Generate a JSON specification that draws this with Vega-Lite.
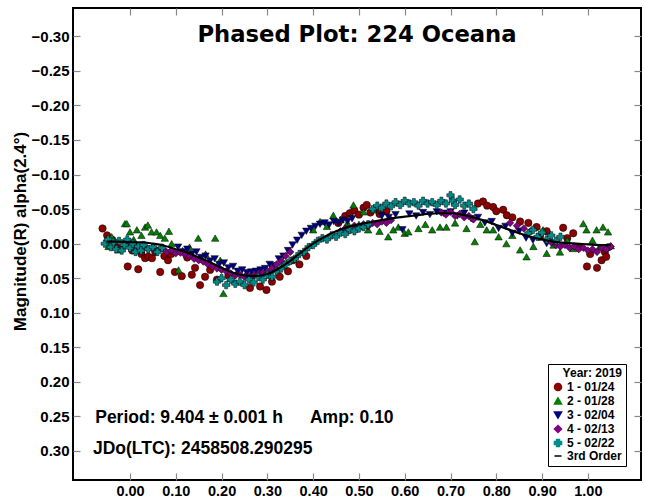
{
  "$schema": "https://vega.github.io/schema/vega-lite/v6.json",
  "width": 568,
  "height": 472,
  "autosize": "none",
  "padding": {"left": 73, "top": 8, "right": 5, "bottom": 20},
  "background": "white",
  "config": {
    "font": "Liberation Sans",
    "view": {"stroke": "black", "strokeWidth": 2},
    "axis": {"labelFont": "Liberation Sans", "labelFontWeight": "bold", "labelFontSize": 15, "labelColor": "black", "titleFont": "Liberation Sans", "titleFontWeight": "bold", "titleFontSize": 17, "titleColor": "black", "grid": false, "domain": false, "tickColor": "#888888", "tickWidth": 1.2}
  },
  "title": {"text": "Phased Plot: 224 Oceana", "font": "DejaVu Sans", "fontSize": 22.7, "fontWeight": "bold", "color": "black", "anchor": "middle", "frame": "group", "baseline": "middle", "offset": 0, "dy": 50},
  "datasets": {
    "pts": [
      {"phase": -0.06, "mag": -0.022, "series": "1 - 01/24"},
      {"phase": -0.05, "mag": -0.012, "series": "1 - 01/24"},
      {"phase": -0.04, "mag": -0.006, "series": "1 - 01/24"},
      {"phase": -0.03, "mag": 0.004, "series": "1 - 01/24"},
      {"phase": -0.02, "mag": 0.008, "series": "1 - 01/24"},
      {"phase": -0.005, "mag": 0.033, "series": "1 - 01/24"},
      {"phase": 0.005, "mag": 0.010, "series": "1 - 01/24"},
      {"phase": 0.015, "mag": 0.005, "series": "1 - 01/24"},
      {"phase": 0.018, "mag": 0.037, "series": "1 - 01/24"},
      {"phase": 0.025, "mag": 0.015, "series": "1 - 01/24"},
      {"phase": 0.033, "mag": 0.021, "series": "1 - 01/24"},
      {"phase": 0.040, "mag": 0.019, "series": "1 - 01/24"},
      {"phase": 0.048, "mag": 0.021, "series": "1 - 01/24"},
      {"phase": 0.055, "mag": 0.012, "series": "1 - 01/24"},
      {"phase": 0.066, "mag": 0.041, "series": "1 - 01/24"},
      {"phase": 0.075, "mag": 0.018, "series": "1 - 01/24"},
      {"phase": 0.083, "mag": 0.024, "series": "1 - 01/24"},
      {"phase": 0.090, "mag": 0.015, "series": "1 - 01/24"},
      {"phase": 0.098, "mag": 0.041, "series": "1 - 01/24"},
      {"phase": 0.113, "mag": 0.047, "series": "1 - 01/24"},
      {"phase": 0.125, "mag": 0.020, "series": "1 - 01/24"},
      {"phase": 0.135, "mag": 0.045, "series": "1 - 01/24"},
      {"phase": 0.142, "mag": 0.035, "series": "1 - 01/24"},
      {"phase": 0.153, "mag": 0.060, "series": "1 - 01/24"},
      {"phase": 0.164, "mag": 0.048, "series": "1 - 01/24"},
      {"phase": 0.175, "mag": 0.038, "series": "1 - 01/24"},
      {"phase": 0.19, "mag": 0.052, "series": "1 - 01/24"},
      {"phase": 0.215, "mag": 0.046, "series": "1 - 01/24"},
      {"phase": 0.262, "mag": 0.064, "series": "1 - 01/24"},
      {"phase": 0.284, "mag": 0.062, "series": "1 - 01/24"},
      {"phase": 0.298, "mag": 0.067, "series": "1 - 01/24"},
      {"phase": 0.31, "mag": 0.055, "series": "1 - 01/24"},
      {"phase": 0.327, "mag": 0.048, "series": "1 - 01/24"},
      {"phase": 0.345, "mag": 0.040, "series": "1 - 01/24"},
      {"phase": 0.356, "mag": 0.024, "series": "1 - 01/24"},
      {"phase": 0.37, "mag": 0.030, "series": "1 - 01/24"},
      {"phase": 0.385, "mag": 0.018, "series": "1 - 01/24"},
      {"phase": 0.455, "mag": -0.030, "series": "1 - 01/24"},
      {"phase": 0.47, "mag": -0.040, "series": "1 - 01/24"},
      {"phase": 0.48, "mag": -0.044, "series": "1 - 01/24"},
      {"phase": 0.49, "mag": -0.048, "series": "1 - 01/24"},
      {"phase": 0.50, "mag": -0.042, "series": "1 - 01/24"},
      {"phase": 0.51, "mag": -0.052, "series": "1 - 01/24"},
      {"phase": 0.517, "mag": -0.056, "series": "1 - 01/24"},
      {"phase": 0.525, "mag": -0.045, "series": "1 - 01/24"},
      {"phase": 0.535, "mag": -0.050, "series": "1 - 01/24"},
      {"phase": 0.545, "mag": -0.043, "series": "1 - 01/24"},
      {"phase": 0.56, "mag": -0.047, "series": "1 - 01/24"},
      {"phase": 0.76, "mag": -0.058, "series": "1 - 01/24"},
      {"phase": 0.771, "mag": -0.061, "series": "1 - 01/24"},
      {"phase": 0.78, "mag": -0.055, "series": "1 - 01/24"},
      {"phase": 0.793, "mag": -0.053, "series": "1 - 01/24"},
      {"phase": 0.80, "mag": -0.047, "series": "1 - 01/24"},
      {"phase": 0.815, "mag": -0.049, "series": "1 - 01/24"},
      {"phase": 0.823, "mag": -0.041, "series": "1 - 01/24"},
      {"phase": 0.835, "mag": -0.038, "series": "1 - 01/24"},
      {"phase": 0.852, "mag": -0.032, "series": "1 - 01/24"},
      {"phase": 0.87, "mag": -0.030, "series": "1 - 01/24"},
      {"phase": 0.888, "mag": -0.024, "series": "1 - 01/24"},
      {"phase": 0.895, "mag": -0.010, "series": "1 - 01/24"},
      {"phase": 0.91, "mag": -0.018, "series": "1 - 01/24"},
      {"phase": 0.946, "mag": -0.023, "series": "1 - 01/24"},
      {"phase": 0.955, "mag": -0.008, "series": "1 - 01/24"},
      {"phase": 0.968, "mag": -0.015, "series": "1 - 01/24"},
      {"phase": 0.98, "mag": 0.005, "series": "1 - 01/24"},
      {"phase": 0.998, "mag": 0.033, "series": "1 - 01/24"},
      {"phase": 1.005, "mag": 0.015, "series": "1 - 01/24"},
      {"phase": 1.02, "mag": 0.035, "series": "1 - 01/24"},
      {"phase": 1.03, "mag": 0.024, "series": "1 - 01/24"},
      {"phase": 1.037, "mag": 0.012, "series": "1 - 01/24"},
      {"phase": 1.04, "mag": 0.019, "series": "1 - 01/24"},
      {"phase": 1.045, "mag": 0.005, "series": "1 - 01/24"},

      {"phase": -0.047, "mag": 0.004, "series": "2 - 01/28"},
      {"phase": -0.04, "mag": -0.010, "series": "2 - 01/28"},
      {"phase": -0.033, "mag": -0.005, "series": "2 - 01/28"},
      {"phase": -0.026, "mag": 0.009, "series": "2 - 01/28"},
      {"phase": -0.011, "mag": -0.029, "series": "2 - 01/28"},
      {"phase": -0.007, "mag": -0.029, "series": "2 - 01/28"},
      {"phase": 0.0, "mag": -0.017, "series": "2 - 01/28"},
      {"phase": 0.008, "mag": -0.006, "series": "2 - 01/28"},
      {"phase": 0.015, "mag": -0.020, "series": "2 - 01/28"},
      {"phase": 0.025, "mag": -0.012, "series": "2 - 01/28"},
      {"phase": 0.033, "mag": -0.024, "series": "2 - 01/28"},
      {"phase": 0.039, "mag": -0.027, "series": "2 - 01/28"},
      {"phase": 0.047, "mag": -0.017, "series": "2 - 01/28"},
      {"phase": 0.058, "mag": -0.017, "series": "2 - 01/28"},
      {"phase": 0.066, "mag": -0.012, "series": "2 - 01/28"},
      {"phase": 0.076, "mag": -0.008, "series": "2 - 01/28"},
      {"phase": 0.085, "mag": -0.018, "series": "2 - 01/28"},
      {"phase": 0.091, "mag": 0.0, "series": "2 - 01/28"},
      {"phase": 0.106, "mag": 0.038, "series": "2 - 01/28"},
      {"phase": 0.115, "mag": 0.010, "series": "2 - 01/28"},
      {"phase": 0.13, "mag": 0.005, "series": "2 - 01/28"},
      {"phase": 0.149, "mag": -0.008, "series": "2 - 01/28"},
      {"phase": 0.165, "mag": 0.015, "series": "2 - 01/28"},
      {"phase": 0.186, "mag": -0.008, "series": "2 - 01/28"},
      {"phase": 0.197, "mag": 0.024, "series": "2 - 01/28"},
      {"phase": 0.204, "mag": 0.072, "series": "2 - 01/28"},
      {"phase": 0.22, "mag": 0.050, "series": "2 - 01/28"},
      {"phase": 0.40, "mag": -0.020, "series": "2 - 01/28"},
      {"phase": 0.415, "mag": -0.032, "series": "2 - 01/28"},
      {"phase": 0.43, "mag": -0.025, "series": "2 - 01/28"},
      {"phase": 0.444, "mag": -0.041, "series": "2 - 01/28"},
      {"phase": 0.46, "mag": -0.035, "series": "2 - 01/28"},
      {"phase": 0.475, "mag": -0.030, "series": "2 - 01/28"},
      {"phase": 0.488, "mag": -0.056, "series": "2 - 01/28"},
      {"phase": 0.50, "mag": -0.028, "series": "2 - 01/28"},
      {"phase": 0.51, "mag": -0.046, "series": "2 - 01/28"},
      {"phase": 0.52, "mag": -0.020, "series": "2 - 01/28"},
      {"phase": 0.531, "mag": -0.049, "series": "2 - 01/28"},
      {"phase": 0.545, "mag": -0.018, "series": "2 - 01/28"},
      {"phase": 0.564, "mag": -0.010, "series": "2 - 01/28"},
      {"phase": 0.575, "mag": -0.020, "series": "2 - 01/28"},
      {"phase": 0.586, "mag": -0.024, "series": "2 - 01/28"},
      {"phase": 0.60, "mag": -0.015, "series": "2 - 01/28"},
      {"phase": 0.608, "mag": -0.017, "series": "2 - 01/28"},
      {"phase": 0.63, "mag": -0.022, "series": "2 - 01/28"},
      {"phase": 0.645, "mag": -0.028, "series": "2 - 01/28"},
      {"phase": 0.66, "mag": -0.020, "series": "2 - 01/28"},
      {"phase": 0.677, "mag": -0.024, "series": "2 - 01/28"},
      {"phase": 0.691, "mag": -0.024, "series": "2 - 01/28"},
      {"phase": 0.71, "mag": -0.030, "series": "2 - 01/28"},
      {"phase": 0.735, "mag": -0.022, "series": "2 - 01/28"},
      {"phase": 0.753, "mag": -0.003, "series": "2 - 01/28"},
      {"phase": 0.765, "mag": -0.028, "series": "2 - 01/28"},
      {"phase": 0.779, "mag": -0.020, "series": "2 - 01/28"},
      {"phase": 0.793, "mag": -0.020, "series": "2 - 01/28"},
      {"phase": 0.805, "mag": -0.010, "series": "2 - 01/28"},
      {"phase": 0.822, "mag": 0.000, "series": "2 - 01/28"},
      {"phase": 0.835, "mag": -0.012, "series": "2 - 01/28"},
      {"phase": 0.852, "mag": 0.009, "series": "2 - 01/28"},
      {"phase": 0.866, "mag": 0.019, "series": "2 - 01/28"},
      {"phase": 0.881, "mag": 0.004, "series": "2 - 01/28"},
      {"phase": 0.902, "mag": -0.020, "series": "2 - 01/28"},
      {"phase": 0.91, "mag": 0.014, "series": "2 - 01/28"},
      {"phase": 0.925, "mag": 0.002, "series": "2 - 01/28"},
      {"phase": 0.939, "mag": 0.012, "series": "2 - 01/28"},
      {"phase": 0.955, "mag": -0.005, "series": "2 - 01/28"},
      {"phase": 0.968, "mag": 0.007, "series": "2 - 01/28"},
      {"phase": 0.99, "mag": -0.029, "series": "2 - 01/28"},
      {"phase": 0.997, "mag": -0.020, "series": "2 - 01/28"},
      {"phase": 1.01, "mag": -0.005, "series": "2 - 01/28"},
      {"phase": 1.019, "mag": -0.020, "series": "2 - 01/28"},
      {"phase": 1.025, "mag": 0.005, "series": "2 - 01/28"},
      {"phase": 1.033, "mag": -0.024, "series": "2 - 01/28"},
      {"phase": 1.044, "mag": -0.017, "series": "2 - 01/28"},
      {"phase": 1.05, "mag": 0.003, "series": "2 - 01/28"},

      {"phase": 0.105, "mag": 0.005, "series": "3 - 02/04"},
      {"phase": 0.115, "mag": 0.012, "series": "3 - 02/04"},
      {"phase": 0.125, "mag": 0.008, "series": "3 - 02/04"},
      {"phase": 0.135, "mag": 0.015, "series": "3 - 02/04"},
      {"phase": 0.145, "mag": 0.012, "series": "3 - 02/04"},
      {"phase": 0.155, "mag": 0.020, "series": "3 - 02/04"},
      {"phase": 0.165, "mag": 0.018, "series": "3 - 02/04"},
      {"phase": 0.175, "mag": 0.025, "series": "3 - 02/04"},
      {"phase": 0.185, "mag": 0.022, "series": "3 - 02/04"},
      {"phase": 0.195, "mag": 0.030, "series": "3 - 02/04"},
      {"phase": 0.205, "mag": 0.028, "series": "3 - 02/04"},
      {"phase": 0.215, "mag": 0.035, "series": "3 - 02/04"},
      {"phase": 0.225, "mag": 0.033, "series": "3 - 02/04"},
      {"phase": 0.235, "mag": 0.040, "series": "3 - 02/04"},
      {"phase": 0.245, "mag": 0.038, "series": "3 - 02/04"},
      {"phase": 0.255, "mag": 0.042, "series": "3 - 02/04"},
      {"phase": 0.265, "mag": 0.041, "series": "3 - 02/04"},
      {"phase": 0.275, "mag": 0.040, "series": "3 - 02/04"},
      {"phase": 0.285, "mag": 0.038, "series": "3 - 02/04"},
      {"phase": 0.295, "mag": 0.036, "series": "3 - 02/04"},
      {"phase": 0.305, "mag": 0.030, "series": "3 - 02/04"},
      {"phase": 0.315, "mag": 0.032, "series": "3 - 02/04"},
      {"phase": 0.325, "mag": 0.022, "series": "3 - 02/04"},
      {"phase": 0.335, "mag": 0.018, "series": "3 - 02/04"},
      {"phase": 0.345, "mag": 0.010, "series": "3 - 02/04"},
      {"phase": 0.355, "mag": 0.002, "series": "3 - 02/04"},
      {"phase": 0.365, "mag": -0.005, "series": "3 - 02/04"},
      {"phase": 0.375, "mag": -0.012, "series": "3 - 02/04"},
      {"phase": 0.385, "mag": -0.018, "series": "3 - 02/04"},
      {"phase": 0.395, "mag": -0.022, "series": "3 - 02/04"},
      {"phase": 0.405, "mag": -0.025, "series": "3 - 02/04"},
      {"phase": 0.415, "mag": -0.028, "series": "3 - 02/04"},
      {"phase": 0.425, "mag": -0.030, "series": "3 - 02/04"},
      {"phase": 0.435, "mag": -0.027, "series": "3 - 02/04"},
      {"phase": 0.445, "mag": -0.032, "series": "3 - 02/04"},
      {"phase": 0.455, "mag": -0.030, "series": "3 - 02/04"},
      {"phase": 0.465, "mag": -0.034, "series": "3 - 02/04"},
      {"phase": 0.475, "mag": -0.032, "series": "3 - 02/04"},
      {"phase": 0.485, "mag": -0.036, "series": "3 - 02/04"},
      {"phase": 0.55, "mag": -0.040, "series": "3 - 02/04"},
      {"phase": 0.565, "mag": -0.038, "series": "3 - 02/04"},
      {"phase": 0.58, "mag": -0.042, "series": "3 - 02/04"},
      {"phase": 0.595, "mag": -0.020, "series": "3 - 02/04"},
      {"phase": 0.61, "mag": -0.043, "series": "3 - 02/04"},
      {"phase": 0.625, "mag": -0.040, "series": "3 - 02/04"},
      {"phase": 0.64, "mag": -0.045, "series": "3 - 02/04"},
      {"phase": 0.655, "mag": -0.042, "series": "3 - 02/04"},
      {"phase": 0.67, "mag": -0.046, "series": "3 - 02/04"},
      {"phase": 0.685, "mag": -0.044, "series": "3 - 02/04"},
      {"phase": 0.70, "mag": -0.046, "series": "3 - 02/04"},
      {"phase": 0.715, "mag": -0.040, "series": "3 - 02/04"},
      {"phase": 0.73, "mag": -0.044, "series": "3 - 02/04"},
      {"phase": 0.745, "mag": -0.036, "series": "3 - 02/04"},
      {"phase": 0.76, "mag": -0.038, "series": "3 - 02/04"},
      {"phase": 0.775, "mag": -0.030, "series": "3 - 02/04"},
      {"phase": 0.79, "mag": -0.032, "series": "3 - 02/04"},
      {"phase": 0.805, "mag": -0.022, "series": "3 - 02/04"},
      {"phase": 0.82, "mag": -0.025, "series": "3 - 02/04"},
      {"phase": 0.835, "mag": -0.015, "series": "3 - 02/04"},
      {"phase": 0.85, "mag": -0.018, "series": "3 - 02/04"},
      {"phase": 0.865, "mag": -0.008, "series": "3 - 02/04"},
      {"phase": 0.88, "mag": -0.005, "series": "3 - 02/04"},
      {"phase": 0.895, "mag": -0.010, "series": "3 - 02/04"},
      {"phase": 0.91, "mag": 0.0, "series": "3 - 02/04"},

      {"phase": -0.01, "mag": -0.002, "series": "4 - 02/13"},
      {"phase": 0.0, "mag": 0.000, "series": "4 - 02/13"},
      {"phase": 0.01, "mag": 0.003, "series": "4 - 02/13"},
      {"phase": 0.02, "mag": 0.006, "series": "4 - 02/13"},
      {"phase": 0.03, "mag": 0.004, "series": "4 - 02/13"},
      {"phase": 0.04, "mag": 0.008, "series": "4 - 02/13"},
      {"phase": 0.05, "mag": 0.006, "series": "4 - 02/13"},
      {"phase": 0.06, "mag": 0.010, "series": "4 - 02/13"},
      {"phase": 0.07, "mag": 0.007, "series": "4 - 02/13"},
      {"phase": 0.08, "mag": 0.012, "series": "4 - 02/13"},
      {"phase": 0.09, "mag": 0.010, "series": "4 - 02/13"},
      {"phase": 0.10, "mag": 0.014, "series": "4 - 02/13"},
      {"phase": 0.11, "mag": 0.013, "series": "4 - 02/13"},
      {"phase": 0.12, "mag": 0.016, "series": "4 - 02/13"},
      {"phase": 0.13, "mag": 0.018, "series": "4 - 02/13"},
      {"phase": 0.14, "mag": 0.022, "series": "4 - 02/13"},
      {"phase": 0.15, "mag": 0.024, "series": "4 - 02/13"},
      {"phase": 0.16, "mag": 0.026, "series": "4 - 02/13"},
      {"phase": 0.17, "mag": 0.030, "series": "4 - 02/13"},
      {"phase": 0.18, "mag": 0.033, "series": "4 - 02/13"},
      {"phase": 0.19, "mag": 0.036, "series": "4 - 02/13"},
      {"phase": 0.20, "mag": 0.038, "series": "4 - 02/13"},
      {"phase": 0.21, "mag": 0.040, "series": "4 - 02/13"},
      {"phase": 0.22, "mag": 0.043, "series": "4 - 02/13"},
      {"phase": 0.23, "mag": 0.046, "series": "4 - 02/13"},
      {"phase": 0.24, "mag": 0.045, "series": "4 - 02/13"},
      {"phase": 0.25, "mag": 0.048, "series": "4 - 02/13"},
      {"phase": 0.26, "mag": 0.047, "series": "4 - 02/13"},
      {"phase": 0.27, "mag": 0.046, "series": "4 - 02/13"},
      {"phase": 0.28, "mag": 0.044, "series": "4 - 02/13"},
      {"phase": 0.29, "mag": 0.042, "series": "4 - 02/13"},
      {"phase": 0.30, "mag": 0.040, "series": "4 - 02/13"},
      {"phase": 0.31, "mag": 0.036, "series": "4 - 02/13"},
      {"phase": 0.32, "mag": 0.030, "series": "4 - 02/13"},
      {"phase": 0.33, "mag": 0.025, "series": "4 - 02/13"},
      {"phase": 0.34, "mag": 0.018, "series": "4 - 02/13"},
      {"phase": 0.35, "mag": 0.012, "series": "4 - 02/13"},
      {"phase": 0.46, "mag": -0.018, "series": "4 - 02/13"},
      {"phase": 0.47, "mag": -0.022, "series": "4 - 02/13"},
      {"phase": 0.48, "mag": -0.020, "series": "4 - 02/13"},
      {"phase": 0.49, "mag": -0.026, "series": "4 - 02/13"},
      {"phase": 0.50, "mag": -0.024, "series": "4 - 02/13"},
      {"phase": 0.51, "mag": -0.028, "series": "4 - 02/13"},
      {"phase": 0.52, "mag": -0.025, "series": "4 - 02/13"},
      {"phase": 0.53, "mag": -0.030, "series": "4 - 02/13"},
      {"phase": 0.54, "mag": -0.028, "series": "4 - 02/13"},
      {"phase": 0.55, "mag": -0.032, "series": "4 - 02/13"},
      {"phase": 0.56, "mag": -0.030, "series": "4 - 02/13"},
      {"phase": 0.57, "mag": -0.034, "series": "4 - 02/13"},
      {"phase": 0.68, "mag": -0.045, "series": "4 - 02/13"},
      {"phase": 0.69, "mag": -0.042, "series": "4 - 02/13"},
      {"phase": 0.70, "mag": -0.046, "series": "4 - 02/13"},
      {"phase": 0.71, "mag": -0.040, "series": "4 - 02/13"},
      {"phase": 0.72, "mag": -0.043, "series": "4 - 02/13"},
      {"phase": 0.73, "mag": -0.038, "series": "4 - 02/13"},
      {"phase": 0.74, "mag": -0.040, "series": "4 - 02/13"},
      {"phase": 0.75, "mag": -0.035, "series": "4 - 02/13"},
      {"phase": 0.83, "mag": -0.030, "series": "4 - 02/13"},
      {"phase": 0.845, "mag": -0.026, "series": "4 - 02/13"},
      {"phase": 0.86, "mag": -0.022, "series": "4 - 02/13"},
      {"phase": 0.875, "mag": -0.018, "series": "4 - 02/13"},
      {"phase": 0.92, "mag": -0.002, "series": "4 - 02/13"},
      {"phase": 0.93, "mag": 0.002, "series": "4 - 02/13"},
      {"phase": 0.94, "mag": 0.004, "series": "4 - 02/13"},
      {"phase": 0.95, "mag": 0.002, "series": "4 - 02/13"},
      {"phase": 0.96, "mag": 0.006, "series": "4 - 02/13"},
      {"phase": 0.97, "mag": 0.004, "series": "4 - 02/13"},
      {"phase": 0.98, "mag": 0.008, "series": "4 - 02/13"},
      {"phase": 0.99, "mag": 0.006, "series": "4 - 02/13"},
      {"phase": 1.00, "mag": 0.010, "series": "4 - 02/13"},
      {"phase": 1.01, "mag": 0.008, "series": "4 - 02/13"},
      {"phase": 1.02, "mag": 0.012, "series": "4 - 02/13"},
      {"phase": 1.03, "mag": 0.006, "series": "4 - 02/13"},
      {"phase": 1.04, "mag": 0.008, "series": "4 - 02/13"},
      {"phase": 1.05, "mag": 0.004, "series": "4 - 02/13"},

      {"phase": -0.055, "mag": 0.000, "series": "5 - 02/22"},
      {"phase": -0.048, "mag": -0.006, "series": "5 - 02/22"},
      {"phase": -0.042, "mag": 0.005, "series": "5 - 02/22"},
      {"phase": -0.036, "mag": -0.002, "series": "5 - 02/22"},
      {"phase": -0.03, "mag": 0.008, "series": "5 - 02/22"},
      {"phase": -0.024, "mag": -0.004, "series": "5 - 02/22"},
      {"phase": -0.018, "mag": 0.010, "series": "5 - 02/22"},
      {"phase": -0.012, "mag": 0.002, "series": "5 - 02/22"},
      {"phase": -0.006, "mag": -0.006, "series": "5 - 02/22"},
      {"phase": 0.0, "mag": 0.006, "series": "5 - 02/22"},
      {"phase": 0.006, "mag": 0.000, "series": "5 - 02/22"},
      {"phase": 0.012, "mag": 0.012, "series": "5 - 02/22"},
      {"phase": 0.018, "mag": 0.004, "series": "5 - 02/22"},
      {"phase": 0.024, "mag": 0.010, "series": "5 - 02/22"},
      {"phase": 0.03, "mag": 0.002, "series": "5 - 02/22"},
      {"phase": 0.04, "mag": 0.008, "series": "5 - 02/22"},
      {"phase": 0.05, "mag": 0.005, "series": "5 - 02/22"},
      {"phase": 0.06, "mag": 0.012, "series": "5 - 02/22"},
      {"phase": 0.07, "mag": 0.006, "series": "5 - 02/22"},
      {"phase": 0.19, "mag": 0.055, "series": "5 - 02/22"},
      {"phase": 0.20, "mag": 0.050, "series": "5 - 02/22"},
      {"phase": 0.21, "mag": 0.060, "series": "5 - 02/22"},
      {"phase": 0.22, "mag": 0.052, "series": "5 - 02/22"},
      {"phase": 0.23, "mag": 0.058, "series": "5 - 02/22"},
      {"phase": 0.24, "mag": 0.055, "series": "5 - 02/22"},
      {"phase": 0.25, "mag": 0.060, "series": "5 - 02/22"},
      {"phase": 0.26, "mag": 0.052, "series": "5 - 02/22"},
      {"phase": 0.27, "mag": 0.056, "series": "5 - 02/22"},
      {"phase": 0.28, "mag": 0.048, "series": "5 - 02/22"},
      {"phase": 0.29, "mag": 0.052, "series": "5 - 02/22"},
      {"phase": 0.30, "mag": 0.045, "series": "5 - 02/22"},
      {"phase": 0.31, "mag": 0.048, "series": "5 - 02/22"},
      {"phase": 0.32, "mag": 0.040, "series": "5 - 02/22"},
      {"phase": 0.33, "mag": 0.036, "series": "5 - 02/22"},
      {"phase": 0.34, "mag": 0.030, "series": "5 - 02/22"},
      {"phase": 0.35, "mag": 0.025, "series": "5 - 02/22"},
      {"phase": 0.36, "mag": 0.022, "series": "5 - 02/22"},
      {"phase": 0.37, "mag": 0.015, "series": "5 - 02/22"},
      {"phase": 0.38, "mag": 0.012, "series": "5 - 02/22"},
      {"phase": 0.39, "mag": 0.005, "series": "5 - 02/22"},
      {"phase": 0.40, "mag": 0.002, "series": "5 - 02/22"},
      {"phase": 0.41, "mag": -0.004, "series": "5 - 02/22"},
      {"phase": 0.42, "mag": -0.008, "series": "5 - 02/22"},
      {"phase": 0.43, "mag": -0.006, "series": "5 - 02/22"},
      {"phase": 0.44, "mag": -0.012, "series": "5 - 02/22"},
      {"phase": 0.45, "mag": -0.010, "series": "5 - 02/22"},
      {"phase": 0.46, "mag": -0.016, "series": "5 - 02/22"},
      {"phase": 0.47, "mag": -0.014, "series": "5 - 02/22"},
      {"phase": 0.48, "mag": -0.020, "series": "5 - 02/22"},
      {"phase": 0.49, "mag": -0.018, "series": "5 - 02/22"},
      {"phase": 0.50, "mag": -0.022, "series": "5 - 02/22"},
      {"phase": 0.51, "mag": -0.024, "series": "5 - 02/22"},
      {"phase": 0.52, "mag": -0.028, "series": "5 - 02/22"},
      {"phase": 0.53, "mag": -0.050, "series": "5 - 02/22"},
      {"phase": 0.54, "mag": -0.055, "series": "5 - 02/22"},
      {"phase": 0.55, "mag": -0.052, "series": "5 - 02/22"},
      {"phase": 0.56, "mag": -0.058, "series": "5 - 02/22"},
      {"phase": 0.57, "mag": -0.054, "series": "5 - 02/22"},
      {"phase": 0.58, "mag": -0.060, "series": "5 - 02/22"},
      {"phase": 0.59, "mag": -0.056, "series": "5 - 02/22"},
      {"phase": 0.60, "mag": -0.062, "series": "5 - 02/22"},
      {"phase": 0.61, "mag": -0.058, "series": "5 - 02/22"},
      {"phase": 0.62, "mag": -0.060, "series": "5 - 02/22"},
      {"phase": 0.63, "mag": -0.055, "series": "5 - 02/22"},
      {"phase": 0.64, "mag": -0.062, "series": "5 - 02/22"},
      {"phase": 0.65, "mag": -0.058, "series": "5 - 02/22"},
      {"phase": 0.66, "mag": -0.060, "series": "5 - 02/22"},
      {"phase": 0.67, "mag": -0.056, "series": "5 - 02/22"},
      {"phase": 0.68, "mag": -0.062, "series": "5 - 02/22"},
      {"phase": 0.69, "mag": -0.058, "series": "5 - 02/22"},
      {"phase": 0.70, "mag": -0.070, "series": "5 - 02/22"},
      {"phase": 0.705, "mag": -0.062, "series": "5 - 02/22"},
      {"phase": 0.71, "mag": -0.056, "series": "5 - 02/22"},
      {"phase": 0.72, "mag": -0.064, "series": "5 - 02/22"},
      {"phase": 0.73, "mag": -0.055, "series": "5 - 02/22"},
      {"phase": 0.74, "mag": -0.058, "series": "5 - 02/22"},
      {"phase": 0.75, "mag": -0.050, "series": "5 - 02/22"},
      {"phase": 0.87, "mag": -0.015, "series": "5 - 02/22"},
      {"phase": 0.88, "mag": -0.020, "series": "5 - 02/22"},
      {"phase": 0.89, "mag": -0.010, "series": "5 - 02/22"},
      {"phase": 0.90, "mag": -0.016, "series": "5 - 02/22"},
      {"phase": 0.91, "mag": -0.006, "series": "5 - 02/22"},
      {"phase": 0.92, "mag": -0.012, "series": "5 - 02/22"},
      {"phase": 0.93, "mag": -0.004, "series": "5 - 02/22"},
      {"phase": 0.94, "mag": -0.010, "series": "5 - 02/22"}
    ],
    "fit": [
      {"phase": -0.05, "mag": -0.003, "series": "3rd Order"},
      {"phase": -0.025, "mag": -0.003, "series": "3rd Order"},
      {"phase": 0.0, "mag": -0.002, "series": "3rd Order"},
      {"phase": 0.025, "mag": -0.002, "series": "3rd Order"},
      {"phase": 0.05, "mag": 0.0, "series": "3rd Order"},
      {"phase": 0.075, "mag": 0.003, "series": "3rd Order"},
      {"phase": 0.1, "mag": 0.008, "series": "3rd Order"},
      {"phase": 0.125, "mag": 0.013, "series": "3rd Order"},
      {"phase": 0.15, "mag": 0.02, "series": "3rd Order"},
      {"phase": 0.175, "mag": 0.027, "series": "3rd Order"},
      {"phase": 0.2, "mag": 0.035, "series": "3rd Order"},
      {"phase": 0.225, "mag": 0.042, "series": "3rd Order"},
      {"phase": 0.25, "mag": 0.046, "series": "3rd Order"},
      {"phase": 0.275, "mag": 0.047, "series": "3rd Order"},
      {"phase": 0.3, "mag": 0.044, "series": "3rd Order"},
      {"phase": 0.325, "mag": 0.036, "series": "3rd Order"},
      {"phase": 0.35, "mag": 0.025, "series": "3rd Order"},
      {"phase": 0.375, "mag": 0.012, "series": "3rd Order"},
      {"phase": 0.4, "mag": 0.0, "series": "3rd Order"},
      {"phase": 0.425, "mag": -0.01, "series": "3rd Order"},
      {"phase": 0.45, "mag": -0.018, "series": "3rd Order"},
      {"phase": 0.475, "mag": -0.024, "series": "3rd Order"},
      {"phase": 0.5, "mag": -0.028, "series": "3rd Order"},
      {"phase": 0.525, "mag": -0.031, "series": "3rd Order"},
      {"phase": 0.55, "mag": -0.034, "series": "3rd Order"},
      {"phase": 0.575, "mag": -0.037, "series": "3rd Order"},
      {"phase": 0.6, "mag": -0.039, "series": "3rd Order"},
      {"phase": 0.625, "mag": -0.041, "series": "3rd Order"},
      {"phase": 0.65, "mag": -0.043, "series": "3rd Order"},
      {"phase": 0.675, "mag": -0.044, "series": "3rd Order"},
      {"phase": 0.7, "mag": -0.044, "series": "3rd Order"},
      {"phase": 0.725, "mag": -0.042, "series": "3rd Order"},
      {"phase": 0.75, "mag": -0.038, "series": "3rd Order"},
      {"phase": 0.775, "mag": -0.033, "series": "3rd Order"},
      {"phase": 0.8, "mag": -0.027, "series": "3rd Order"},
      {"phase": 0.825, "mag": -0.021, "series": "3rd Order"},
      {"phase": 0.85, "mag": -0.015, "series": "3rd Order"},
      {"phase": 0.875, "mag": -0.01, "series": "3rd Order"},
      {"phase": 0.9, "mag": -0.006, "series": "3rd Order"},
      {"phase": 0.925, "mag": -0.003, "series": "3rd Order"},
      {"phase": 0.95, "mag": -0.001, "series": "3rd Order"},
      {"phase": 0.975, "mag": 0.0, "series": "3rd Order"},
      {"phase": 1.0, "mag": 0.001, "series": "3rd Order"},
      {"phase": 1.025, "mag": 0.002, "series": "3rd Order"},
      {"phase": 1.05, "mag": 0.002, "series": "3rd Order"}
    ],
    "notes": [
      {"label": "Period: 9.404 ± 0.001 h", "px": -0.076, "py": 0.252},
      {"label": "Amp: 0.10", "px": 0.393, "py": 0.252},
      {"label": "JDo(LTC): 2458508.290295", "px": -0.081, "py": 0.297}
    ]
  },
  "resolve": {"axis": {"x": "independent", "y": "independent"}},
  "layer": [
    {
      "data": {"name": "pts"},
      "mark": {"type": "point", "filled": true, "opacity": 1, "size": 55, "stroke": "black", "strokeWidth": 0.5},
      "encoding": {
        "x": {"field": "phase", "type": "quantitative", "scale": {"domain": [-0.1245, 1.116], "nice": false, "zero": false},
              "axis": {"orient": "bottom", "title": null, "values": [0, 0.1, 0.2, 0.3, 0.4, 0.5, 0.6, 0.7, 0.8, 0.9, 1.0], "format": ".2f", "tickSize": -7, "labelPadding": 11.5, "labelFontSize": 14.5}},
        "y": {"field": "mag", "type": "quantitative", "scale": {"domain": [-0.341, 0.342], "reverse": true, "nice": false, "zero": false},
              "axis": {"orient": "left", "title": "Magnitude(R) alpha(2.4°)", "values": [-0.3, -0.25, -0.2, -0.15, -0.1, -0.05, 0, 0.05, 0.1, 0.15, 0.2, 0.25, 0.3], "format": ".2f", "tickSize": -7, "labelPadding": 11, "titlePadding": 2, "titleY": 223}},
        "color": {"field": "series", "type": "nominal",
                  "scale": {"domain": ["1 - 01/24", "2 - 01/28", "3 - 02/04", "4 - 02/13", "5 - 02/22", "3rd Order"], "range": ["#8B0000", "#008000", "#000080", "#800080", "#008B8B", "#000000"]},
                  "legend": {"title": "Year: 2019", "orient": "none", "legendX": 475, "legendY": 356, "titleAnchor": "end", "titleFont": "Liberation Sans", "titleFontSize": 12, "titleFontWeight": "bold", "titleColor": "black", "titlePadding": 1, "labelFont": "Liberation Sans", "labelFontSize": 12, "labelFontWeight": "bold", "labelColor": "black", "symbolSize": 50, "symbolStrokeWidth": 1.5, "rowPadding": 0, "padding": 4, "strokeColor": "black", "fillColor": "white", "labelOffset": 3}},
        "shape": {"field": "series", "type": "nominal",
                  "scale": {"domain": ["1 - 01/24", "2 - 01/28", "3 - 02/04", "4 - 02/13", "5 - 02/22", "3rd Order"], "range": ["circle", "triangle-up", "triangle-down", "diamond", "cross", "stroke"]},
                  "legend": {"title": "Year: 2019"}}
      }
    },
    {
      "data": {"name": "fit"},
      "mark": {"type": "line", "strokeWidth": 2.2, "interpolate": "monotone"},
      "encoding": {
        "x": {"field": "phase", "type": "quantitative", "axis": {"orient": "top", "title": null, "labels": false, "values": [0, 0.1, 0.2, 0.3, 0.4, 0.5, 0.6, 0.7, 0.8, 0.9, 1.0], "tickSize": -7}},
        "y": {"field": "mag", "type": "quantitative", "axis": {"orient": "right", "title": null, "labels": false, "values": [-0.3, -0.25, -0.2, -0.15, -0.1, -0.05, 0, 0.05, 0.1, 0.15, 0.2, 0.25, 0.3], "tickSize": -7}},
        "color": {"field": "series", "type": "nominal"}
      }
    },
    {
      "data": {"name": "notes"},
      "mark": {"type": "text", "align": "left", "baseline": "middle", "font": "Liberation Sans", "fontSize": 17.5, "fontWeight": "bold", "color": "black"},
      "encoding": {"x": {"field": "px", "type": "quantitative", "axis": null}, "y": {"field": "py", "type": "quantitative", "axis": null}, "text": {"field": "label"}}
    }
  ]
}
